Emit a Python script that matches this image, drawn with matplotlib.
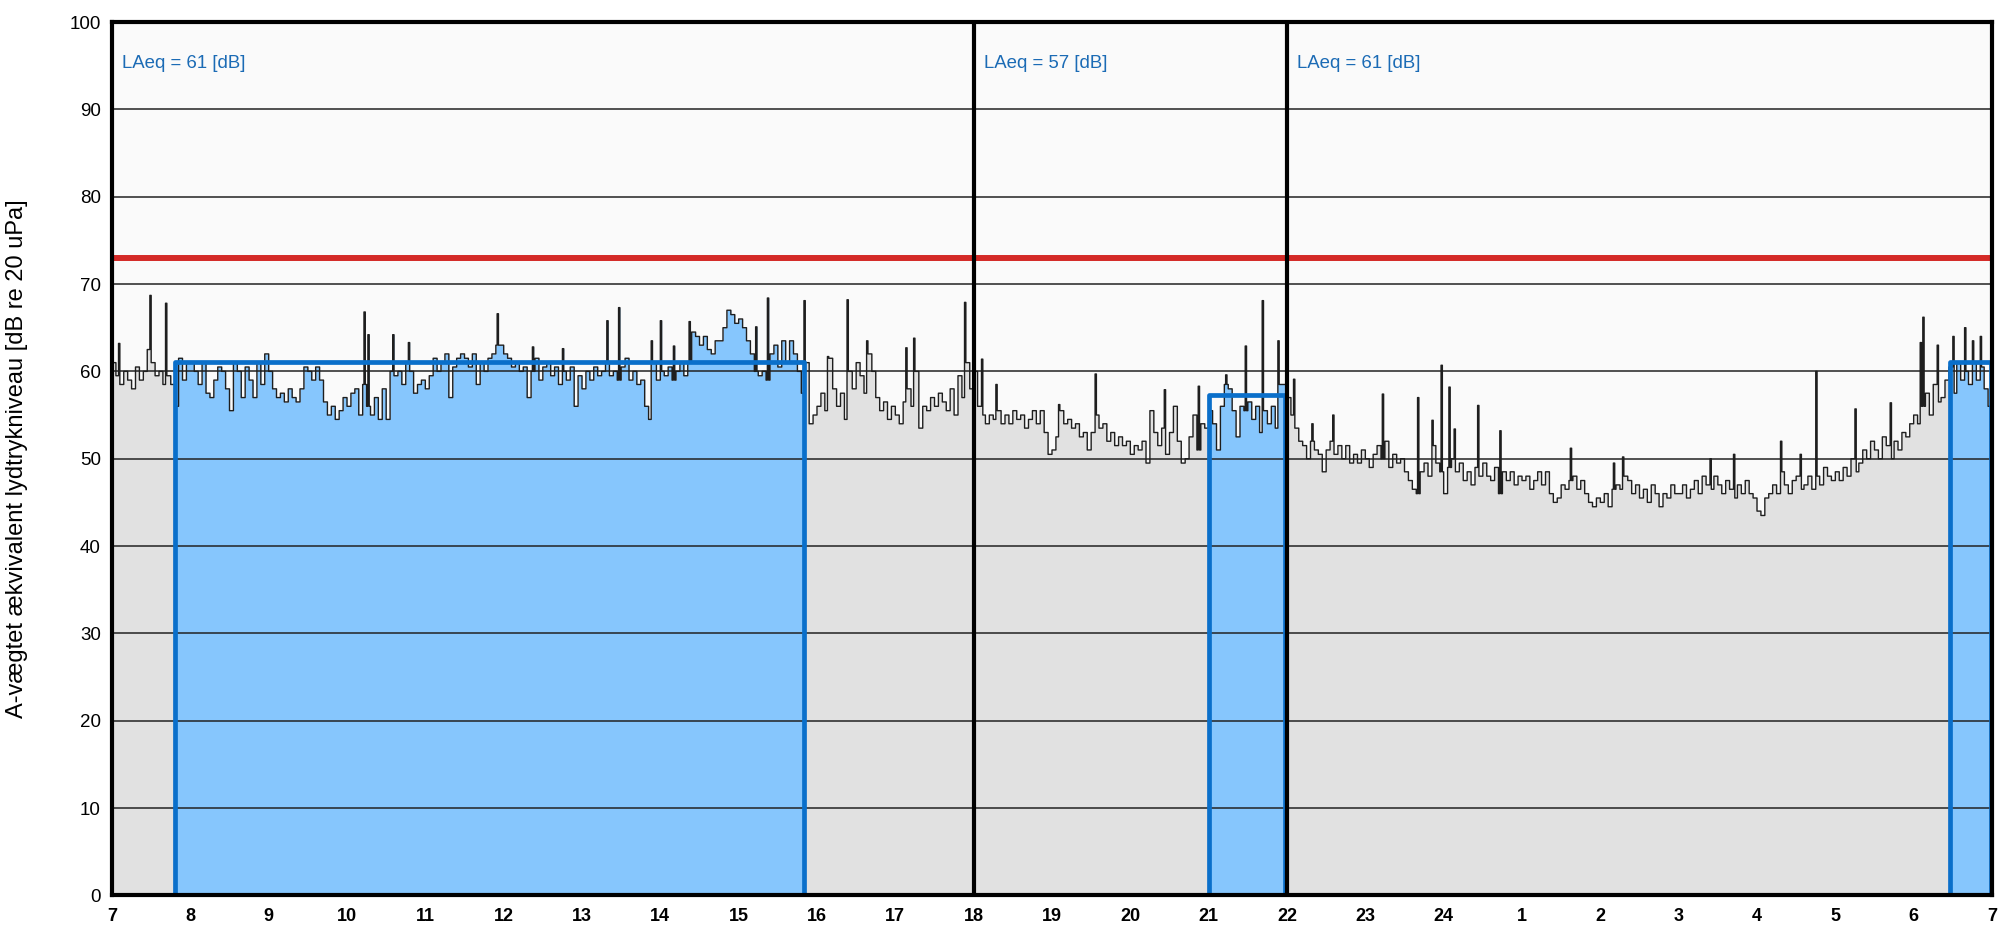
import numpy as np
import matplotlib
matplotlib.use("Agg")
import matplotlib.pyplot as plt

plt.rcParams["font.family"] = ["Liberation Sans", "DejaVu Sans"]

# 3-minute levels [dB]
day_levels = [
    61, 59.5, 58.5, 60, 59, 58, 60.5, 59, 60, 62.5, 61, 59.5, 60, 58.5, 59.5, 58.5, 56, 61.5, 59, 61,
    61, 60, 58.5, 61, 57.5, 57, 59, 60.5, 60, 58, 55.5, 61, 60, 57, 60.5, 59, 57, 61, 58.5, 62,
    60, 58, 57, 57.5, 56.5, 58, 57, 56.5, 58, 60.5, 60, 59, 60.5, 59, 56.5, 55, 56, 54.5, 55.5, 57,
    56, 57.5, 58, 55, 58.5, 56, 55, 57, 54.5, 58, 54.5, 60, 59.5, 60, 58.5, 61, 60, 57.5, 58.5, 59,
    58, 59.5, 61.5, 60, 61, 62, 57, 60.5, 61.5, 62, 61.5, 60.5, 62, 58.5, 61, 60, 61.5, 62, 63, 63,
    62, 61.5, 60.5, 61, 60, 60.5, 57, 60, 61.5, 59, 60.5, 61, 59.5, 60.5, 58.5, 60, 59, 60.5, 56, 59.5,
    58, 60, 59, 60.5, 59.5, 60, 61, 59.5, 60, 59, 60.5, 61.5, 59, 60, 58.5, 59, 56, 54.5, 61, 59,
    60, 59.5, 60.5, 59, 60, 61, 59.5, 61, 64.5, 64, 63, 64, 62.5, 62, 63.5, 63.5, 65, 67, 66.5, 65.5,
    66, 65, 63.5, 62, 60, 59.5, 60, 59, 62, 63, 60.5, 63.5, 61, 63.5, 62, 60, 57.5, 61, 54, 55,
    56, 57.5, 55.5, 61.5, 58, 56, 57.5, 54.5, 60, 58, 61, 59.5, 57.5, 62, 60, 57, 55.5, 56.5, 54.5, 56,
    55, 54, 56.5, 58, 56, 60, 53.5, 56, 55.5, 57, 56, 57.5, 56.5, 55.5, 58, 55, 59.5, 57, 61, 58,
]
evening_levels = [
    60, 56, 55, 54, 55, 54.5, 55.5, 54, 55, 54, 55.5, 54.5, 55, 53.5, 54.5, 55.5, 54, 55.5, 53, 50.5,
    51, 52.5, 55.5, 54, 54.5, 53.5, 54, 52.5, 53, 51, 53, 55, 53.5, 54, 52, 53, 51.5, 52.5, 51.5, 52,
    50.5, 51.5, 51, 52, 49.5, 55.5, 53, 51.5, 53.5, 50.5, 53, 56, 52, 49.5, 50, 52.5, 55, 51, 54, 53.5,
    55.5, 54, 51, 56, 58.5, 58, 55.5, 52.5, 56, 55.5, 56.5, 54.5, 56, 53, 55.5, 54, 56, 53.5, 58.5, 58.5,
]
night_levels = [
    57, 55, 53.5, 52, 51.5, 50, 52, 51, 50.5, 48.5, 51, 52, 50.5, 51.5, 50, 51.5, 49.5, 50.5, 49.5, 51,
    50, 49, 50.5, 51.5, 50, 52, 49, 50.5, 49.5, 50, 48.5, 47.5, 46.5, 46, 48.5, 49.5, 48, 51.5, 49.5, 48.5,
    46, 49, 50, 48.5, 49.5, 47.5, 48.5, 47, 49, 48, 49.5, 48, 47.5, 49, 46, 48.5, 47.5, 48.5, 47, 48,
    47.5, 48, 46.5, 47.5, 48.5, 47, 48.5, 46, 45, 45.5, 47, 46.5, 47.5, 48, 46.5, 47.5, 46, 45, 44.5, 45.5,
    45, 46, 44.5, 46.5, 47, 46.5, 48, 47.5, 46, 47, 45.5, 46.5, 45, 47, 46, 44.5, 46, 45.5, 47, 46,
    46, 47, 45.5, 46.5, 47.5, 46, 48, 47, 46.5, 48, 47, 46, 47.5, 46.5, 45.5, 47, 46, 47.5, 46, 45.5,
    44, 43.5, 45.5, 46, 47, 46, 48.5, 47, 46, 47.5, 48, 46.5, 47, 48, 46.5, 48, 47, 49, 48, 47.5,
    48.5, 47.5, 49, 48, 50, 48.5, 49.5, 51, 50, 52, 51, 50, 52.5, 51.5, 50, 52, 51, 53, 52.5, 54,
    55, 54, 56, 57.5, 55, 58.5, 56.5, 57, 59, 60.5, 57.5, 61, 59, 60, 58.5, 61, 59, 60.5, 58, 56,
]

# short one-minute peaks (hour of day, counted past 24 after midnight)
spike_hours = [7.09, 7.48, 7.69, 10.22, 10.27, 10.58, 10.79, 11.91, 12.36, 12.75, 13.32, 13.47,
               13.88, 14.0, 14.17, 14.36, 15.22, 15.36, 15.83, 16.14, 16.39, 16.63, 17.13, 17.23,
               17.89, 18.1, 18.28, 19.09, 19.55, 20.43, 20.86, 21.21, 21.47, 21.68, 21.89, 22.09,
               22.32, 22.58, 23.22, 23.67, 23.85, 23.97, 24.06, 24.13, 24.44, 24.71, 25.61, 26.17,
               26.28, 27.4, 27.7, 28.3, 28.55, 28.75, 29.25, 29.7, 30.08, 30.12, 30.3, 30.5,
               30.65, 30.75, 30.85]
spike_levels = [63.2, 68.7, 67.8, 66.8, 64.2, 64.2, 63.3, 66.6, 62.8, 62.6, 65.8, 67.3,
                63.5, 65.8, 62.9, 65.7, 65.1, 68.4, 68.1, 61.7, 68.2, 63.5, 62.7, 63.8,
                67.9, 61.4, 58.5, 56.2, 59.7, 57.9, 58.3, 59.6, 62.9, 68.1, 63.5, 59.1,
                54.0, 55.0, 57.4, 57.0, 54.4, 60.7, 58.2, 53.4, 56.1, 53.2, 51.2, 49.5,
                50.2, 50.0, 50.5, 52.0, 50.5, 60.0, 55.7, 56.4, 63.3, 66.2, 63.0, 64.0,
                65.0, 63.5, 64.0]

period_starts = [7, 18, 22]
period_laeq = [61, 57, 61]
sel_start = [7.81, 21.0, 30.47]
sel_end = [15.84, 21.98, 30.99]
sel_laeq = [61.1, 57.3, 61.1]
limit_level = 73
hour_ticks = list(range(7, 32))
hour_labels = [str(h if h <= 24 else h - 24) for h in hour_ticks]

# build one-minute series
base = np.array(day_levels + evening_levels + night_levels, dtype=float)
level = np.repeat(base, 3)
t = 7 + np.arange(len(level)) / 60.0
for h, v in zip(spike_hours, spike_levels):
    i = int(round((h - 7) * 60))
    level[i] = v
t = np.append(t, 31.0)
level = np.append(level, level[-1])

fig = plt.figure(figsize=(20, 9.42), dpi=100)
ax = fig.add_axes([0.056, 0.0495, 0.940, 0.9271])
ax.set_facecolor("#fafafa")

ax.fill_between(t, 0, level, step="post", color="#e1e1e1", lw=0, zorder=1)
for x0, x1 in zip(sel_start, sel_end):
    m = (t >= x0) & (t < x1)
    i0 = np.searchsorted(t, x0, side="right") - 1
    tt = np.concatenate([[x0], t[m], [x1]])
    vv = np.concatenate([[level[i0]], level[m], [level[m][-1]]])
    ax.fill_between(tt, 0, vv, step="post", color="#86c6fd", lw=0, zorder=2)

for y in range(10, 100, 10):
    ax.axhline(y, color="#222222", lw=1.1, zorder=3)

ax.plot(t, level, drawstyle="steps-post", color="#1e1e1e", lw=1.0, zorder=4)

for x0, x1, L in zip(sel_start, sel_end, sel_laeq):
    ax.plot([x0, x0, x1, x1], [0, L, L, 0], color="#0a6fca", lw=3.4,
            solid_joinstyle="round", solid_capstyle="butt", zorder=5)

ax.axhline(limit_level, color="#d42a27", lw=4.3, zorder=5)

for x in period_starts[1:]:
    ax.axvline(x, color="black", lw=3, zorder=6)

for x, v in zip(period_starts, period_laeq):
    ax.text(x + 0.13, 95.2, f"LAeq = {v} [dB]", color="#1b6bb5", fontsize=13.4,
            va="center", ha="left", zorder=7)

ax.set_xlim(7, 31)
ax.set_ylim(0, 100)
ax.set_xticks(hour_ticks)
ax.set_xticklabels(hour_labels, fontsize=13, fontweight="bold")
ax.set_yticks(range(0, 101, 10))
ax.tick_params(axis="y", length=0, pad=8, labelsize=13.5)
ax.tick_params(axis="x", length=0, pad=9)
for s in ax.spines.values():
    s.set_linewidth(3)
    s.set_color("black")
    s.set_zorder(8)

ax.set_ylabel("A-vægtet ækvivalent lydtrykniveau [dB re 20 uPa]", fontsize=17)
ax.yaxis.set_label_coords(-0.0447, 0.5)

fig.savefig("out.png", dpi=100)
